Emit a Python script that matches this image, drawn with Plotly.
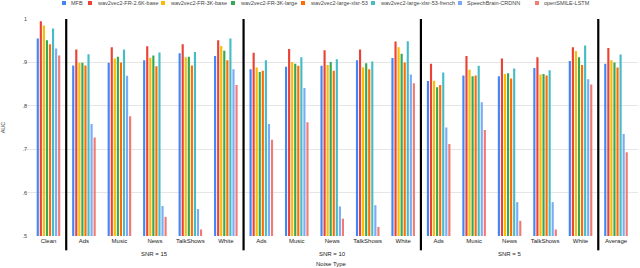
import plotly.graph_objects as go

categories = ["Clean",
              "Ads", "Music", "News", "TalkShows", "White",
              "Ads", "Music", "News", "TalkShows", "White",
              "Ads", "Music", "News", "TalkShows", "White",
              "Average"]

snr_groups = ["SNR = 15", "SNR = 10", "SNR = 5"]
snr_group_members = [[1, 2, 3, 4, 5], [6, 7, 8, 9, 10], [11, 12, 13, 14, 15]]
block_starts = [1, 6, 11, 16]  # first category of each block after a separator

series_names = ["MFB", "wav2vec2-FR-2.6K-base", "wav2vec2-FR-3K-base", "wav2vec2-FR-3K-large",
                "wav2vec2-large-xlsr-53", "wav2vec2-large-xlsr-53-french",
                "SpeechBrain-CRDNN", "openSMILE-LSTM"]

mfb =       [0.955, 0.893, 0.899, 0.905, 0.921, 0.915, 0.884, 0.890, 0.892, 0.905, 0.910, 0.857, 0.870, 0.868, 0.887, 0.903, 0.897]
fr26_base = [0.995, 0.930, 0.935, 0.937, 0.942, 0.951, 0.922, 0.931, 0.928, 0.930, 0.948, 0.897, 0.915, 0.909, 0.912, 0.935, 0.933]
fr3_base =  [0.985, 0.899, 0.909, 0.911, 0.912, 0.938, 0.888, 0.901, 0.894, 0.889, 0.935, 0.858, 0.883, 0.873, 0.872, 0.926, 0.905]
fr3_large = [0.951, 0.899, 0.913, 0.916, 0.913, 0.927, 0.878, 0.897, 0.901, 0.898, 0.920, 0.843, 0.868, 0.875, 0.873, 0.912, 0.900]
xlsr53 =    [0.942, 0.893, 0.900, 0.891, 0.893, 0.905, 0.881, 0.892, 0.881, 0.884, 0.900, 0.848, 0.870, 0.863, 0.870, 0.894, 0.888]
xlsr53_fr = [0.978, 0.919, 0.930, 0.923, 0.924, 0.955, 0.905, 0.912, 0.907, 0.902, 0.949, 0.877, 0.892, 0.886, 0.882, 0.939, 0.918]
sb_crdnn =  [0.932, 0.758, 0.869, 0.569, 0.562, 0.884, 0.758, 0.841, 0.568, 0.571, 0.872, 0.750, 0.808, 0.578, 0.578, 0.861, 0.735]
opensmile = [0.916, 0.727, 0.776, 0.544, 0.515, 0.848, 0.722, 0.762, 0.540, 0.521, 0.852, 0.712, 0.744, 0.535, 0.515, 0.849, 0.693]

series_values = [mfb, fr26_base, fr3_base, fr3_large, xlsr53, xlsr53_fr, sb_crdnn, opensmile]
colors = ["#4285F4", "#EA4335", "#FBBC04", "#34A853", "#FF6D01", "#46BDC6", "#7BAAF7", "#F07B72"]

y_ticks = [0.5, 0.6, 0.7, 0.8, 0.9, 1.0]
y_tick_labels = [".5", ".6", ".7", ".8", ".9", "1"]

xs = list(range(len(categories)))
FONT = "Liberation Sans, Arial, sans-serif"

W, H = 640, 268
ML, MR, MT, MB = 24, 2, 19, 32
plot_w = W - ML - MR
plot_h = H - MT - MB

fig = go.Figure()
for name, vals, col in zip(series_names, series_values, colors):
    fig.add_trace(go.Bar(x=xs, y=vals, name=name, showlegend=False,
                         marker=dict(color=col, line=dict(width=0))))

# separators between blocks
for s in block_starts:
    fig.add_shape(type="line", xref="x", yref="paper", x0=s - 0.5, x1=s - 0.5,
                  y0=-0.066, y1=1.0, line=dict(color="black", width=2.2), layer="above")

# SNR group labels
for label, members in zip(snr_groups, snr_group_members):
    mid = members[len(members) // 2]
    fig.add_annotation(x=mid, xref="x", y=-0.083, yref="paper", text=label, showarrow=False,
                       yanchor="middle", font=dict(size=6, color="#222", family=FONT))

fig.add_annotation(x=0.5, xref="paper", y=-0.128, yref="paper", text="Noise Type", showarrow=False,
                   yanchor="middle", font=dict(size=6, color="#222", family=FONT))

# compact legend row at the top (pixel positions of each entry's swatch)
legend_px = [62, 88, 161, 231, 301, 371, 458, 535]
legend_y = (plot_h + MT - 3.0) / plot_h
for name, col, px in zip(series_names, colors, legend_px):
    xp = (px - ML) / plot_w
    fig.add_shape(type="rect", xref="paper", yref="paper", xsizemode="pixel", ysizemode="pixel",
                  xanchor=xp, yanchor=legend_y, x0=0, x1=4, y0=-2, y1=2,
                  fillcolor=col, line=dict(width=0))
    fig.add_annotation(x=xp, xref="paper", y=legend_y, yref="paper", xshift=7, text=name,
                       showarrow=False, xanchor="left", yanchor="middle",
                       font=dict(size=5.5, color="#444", family=FONT))

fig.update_layout(
    width=W, height=H,
    margin=dict(l=ML, r=MR, t=MT, b=MB, autoexpand=False),
    paper_bgcolor="white", plot_bgcolor="white",
    barmode="group", bargap=0.31, bargroupgap=0.3,
    font=dict(family=FONT, size=6, color="#222"),
    showlegend=False,
    xaxis=dict(tickmode="array", tickvals=xs, ticktext=categories, range=[-0.69, 16.62],
               showgrid=False, zeroline=False, showline=False, ticks="", automargin=False,
               tickfont=dict(size=6, color="#222")),
    yaxis=dict(range=[0.5, 1.0], tickmode="array", tickvals=y_ticks, ticktext=y_tick_labels,
               showgrid=True, gridcolor="#e6e6e6", gridwidth=1, zeroline=False, automargin=False,
               showline=False, tickfont=dict(size=5.5, color="#444"), ticklabelstandoff=-4,
               title=dict(text="AUC", font=dict(size=5.5, color="#444"), standoff=16)),
)

fig.write_html("out.html", config={"displayModeBar": False},
               post_script="document.body.style.margin='0';document.body.style.padding='0';")
